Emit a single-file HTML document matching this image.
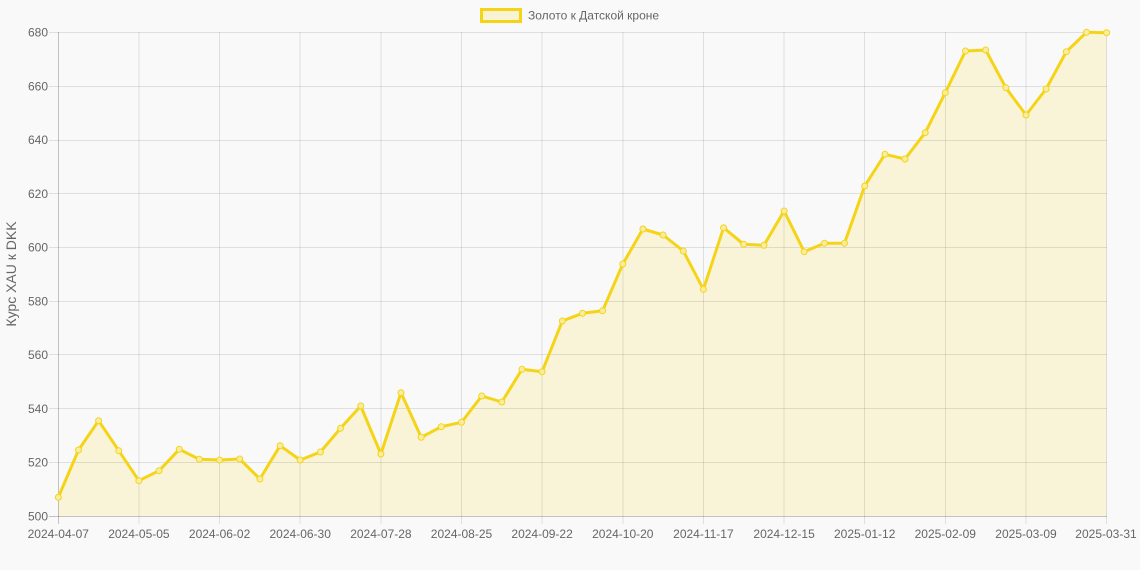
<!DOCTYPE html>
<html><head><meta charset="utf-8"><style>
html,body{margin:0;padding:0;background:#f9f9f9;}
svg{display:block;font-family:"Liberation Sans",Arial,sans-serif;}
</style></head><body>
<svg width="1140" height="570" viewBox="0 0 1140 570" xmlns="http://www.w3.org/2000/svg">
<rect width="1140" height="570" fill="#f9f9f9"/>
<!-- legend -->
<rect x="481.5" y="9.5" width="39" height="12" fill="#f9f3d6" stroke="#f5d418" stroke-width="3"/>
<text x="528" y="19.5" font-size="12" fill="#666">Золото к Датской кроне</text>
<!-- y title -->
<text transform="translate(16,274) rotate(-90)" text-anchor="middle" font-size="14" fill="#666">Курс XAU к DKK</text>
<!-- fill -->
<polygon fill="#f9f4d8" points="58.3,516 58.3,497.3 78.5,450 98.6,420.7 118.8,450.7 138.9,480.7 159.1,470.7 179.3,449.3 199.4,459.3 219.6,460 239.7,459 259.9,479 280.1,445.7 300.2,460 320.4,452 340.5,428.3 360.7,406 380.9,454 401,392.7 421.2,437.3 441.3,426.7 461.5,422.3 481.7,396 501.8,402 522,369.3 542.1,371.7 562.3,321 582.5,313.3 602.6,310.7 622.8,264 642.9,229 663.1,235 683.3,251 703.4,289.3 723.6,227.7 743.7,244.3 763.9,245.3 784.1,211 804.2,251.7 824.4,243.3 844.5,243.3 864.7,186 884.9,154.3 905,159 925.2,132.7 945.3,92.7 965.5,51 985.7,50 1005.8,87.7 1026,115 1046.1,89 1066.3,51.7 1086.5,32.3 1106.6,32.7 1106.6,516"/>
<!-- grid -->
<g stroke="rgba(0,0,0,0.1)" stroke-width="1" shape-rendering="crispEdges">
<line x1="49" y1="32.5" x2="1107" y2="32.5"/>
<line x1="49" y1="86.5" x2="1107" y2="86.5"/>
<line x1="49" y1="140.5" x2="1107" y2="140.5"/>
<line x1="49" y1="193.5" x2="1107" y2="193.5"/>
<line x1="49" y1="247.5" x2="1107" y2="247.5"/>
<line x1="49" y1="301.5" x2="1107" y2="301.5"/>
<line x1="49" y1="354.5" x2="1107" y2="354.5"/>
<line x1="49" y1="408.5" x2="1107" y2="408.5"/>
<line x1="49" y1="462.5" x2="1107" y2="462.5"/>
<line x1="139" y1="32" x2="139" y2="524"/>
<line x1="219.5" y1="32" x2="219.5" y2="524"/>
<line x1="300" y1="32" x2="300" y2="524"/>
<line x1="381" y1="32" x2="381" y2="524"/>
<line x1="461.5" y1="32" x2="461.5" y2="524"/>
<line x1="542" y1="32" x2="542" y2="524"/>
<line x1="622.8" y1="32" x2="622.8" y2="524"/>
<line x1="703.5" y1="32" x2="703.5" y2="524"/>
<line x1="784" y1="32" x2="784" y2="524"/>
<line x1="864.7" y1="32" x2="864.7" y2="524"/>
<line x1="945.3" y1="32" x2="945.3" y2="524"/>
<line x1="1026" y1="32" x2="1026" y2="524"/>
<line x1="1106.6" y1="32" x2="1106.6" y2="524"/>
</g>
<g stroke="rgba(0,0,0,0.22)" stroke-width="1" shape-rendering="crispEdges">
<line x1="58.5" y1="32" x2="58.5" y2="524"/>
<line x1="49" y1="516.5" x2="1107" y2="516.5"/>
</g>
<!-- y labels -->
<g font-size="12" fill="#666" text-anchor="end">
<text x="48" y="36.5">680</text>
<text x="48" y="90.3">660</text>
<text x="48" y="144">640</text>
<text x="48" y="197.8">620</text>
<text x="48" y="251.5">600</text>
<text x="48" y="305.3">580</text>
<text x="48" y="359">560</text>
<text x="48" y="412.8">540</text>
<text x="48" y="466.5">520</text>
<text x="48" y="520.3">500</text>
</g>
<!-- x labels -->
<g font-size="12" fill="#666" text-anchor="middle">
<text x="58.3" y="538">2024-04-07</text>
<text x="138.9" y="538">2024-05-05</text>
<text x="219.6" y="538">2024-06-02</text>
<text x="300.2" y="538">2024-06-30</text>
<text x="380.9" y="538">2024-07-28</text>
<text x="461.5" y="538">2024-08-25</text>
<text x="542.1" y="538">2024-09-22</text>
<text x="622.8" y="538">2024-10-20</text>
<text x="703.4" y="538">2024-11-17</text>
<text x="784.1" y="538">2024-12-15</text>
<text x="864.7" y="538">2025-01-12</text>
<text x="945.3" y="538">2025-02-09</text>
<text x="1026" y="538">2025-03-09</text>
<text x="1106" y="538">2025-03-31</text>
</g>
<!-- line -->
<polyline fill="none" stroke="#f5d418" stroke-width="3" stroke-linejoin="round" points="58.3,497.3 78.5,450 98.6,420.7 118.8,450.7 138.9,480.7 159.1,470.7 179.3,449.3 199.4,459.3 219.6,460 239.7,459 259.9,479 280.1,445.7 300.2,460 320.4,452 340.5,428.3 360.7,406 380.9,454 401,392.7 421.2,437.3 441.3,426.7 461.5,422.3 481.7,396 501.8,402 522,369.3 542.1,371.7 562.3,321 582.5,313.3 602.6,310.7 622.8,264 642.9,229 663.1,235 683.3,251 703.4,289.3 723.6,227.7 743.7,244.3 763.9,245.3 784.1,211 804.2,251.7 824.4,243.3 844.5,243.3 864.7,186 884.9,154.3 905,159 925.2,132.7 945.3,92.7 965.5,51 985.7,50 1005.8,87.7 1026,115 1046.1,89 1066.3,51.7 1086.5,32.3 1106.6,32.7"/>
<!-- points -->
<g fill="#f8eda0" stroke="#f5d418" stroke-width="1">
<circle cx="58.3" cy="497.3" r="3"/><circle cx="78.5" cy="450" r="3"/><circle cx="98.6" cy="420.7" r="3"/><circle cx="118.8" cy="450.7" r="3"/><circle cx="138.9" cy="480.7" r="3"/><circle cx="159.1" cy="470.7" r="3"/><circle cx="179.3" cy="449.3" r="3"/><circle cx="199.4" cy="459.3" r="3"/><circle cx="219.6" cy="460" r="3"/><circle cx="239.7" cy="459" r="3"/><circle cx="259.9" cy="479" r="3"/><circle cx="280.1" cy="445.7" r="3"/><circle cx="300.2" cy="460" r="3"/><circle cx="320.4" cy="452" r="3"/><circle cx="340.5" cy="428.3" r="3"/><circle cx="360.7" cy="406" r="3"/><circle cx="380.9" cy="454" r="3"/><circle cx="401" cy="392.7" r="3"/><circle cx="421.2" cy="437.3" r="3"/><circle cx="441.3" cy="426.7" r="3"/><circle cx="461.5" cy="422.3" r="3"/><circle cx="481.7" cy="396" r="3"/><circle cx="501.8" cy="402" r="3"/><circle cx="522" cy="369.3" r="3"/><circle cx="542.1" cy="371.7" r="3"/><circle cx="562.3" cy="321" r="3"/><circle cx="582.5" cy="313.3" r="3"/><circle cx="602.6" cy="310.7" r="3"/><circle cx="622.8" cy="264" r="3"/><circle cx="642.9" cy="229" r="3"/><circle cx="663.1" cy="235" r="3"/><circle cx="683.3" cy="251" r="3"/><circle cx="703.4" cy="289.3" r="3"/><circle cx="723.6" cy="227.7" r="3"/><circle cx="743.7" cy="244.3" r="3"/><circle cx="763.9" cy="245.3" r="3"/><circle cx="784.1" cy="211" r="3"/><circle cx="804.2" cy="251.7" r="3"/><circle cx="824.4" cy="243.3" r="3"/><circle cx="844.5" cy="243.3" r="3"/><circle cx="864.7" cy="186" r="3"/><circle cx="884.9" cy="154.3" r="3"/><circle cx="905" cy="159" r="3"/><circle cx="925.2" cy="132.7" r="3"/><circle cx="945.3" cy="92.7" r="3"/><circle cx="965.5" cy="51" r="3"/><circle cx="985.7" cy="50" r="3"/><circle cx="1005.8" cy="87.7" r="3"/><circle cx="1026" cy="115" r="3"/><circle cx="1046.1" cy="89" r="3"/><circle cx="1066.3" cy="51.7" r="3"/><circle cx="1086.5" cy="32.3" r="3"/><circle cx="1106.6" cy="32.7" r="3"/>
</g>
</svg>
</body></html>
